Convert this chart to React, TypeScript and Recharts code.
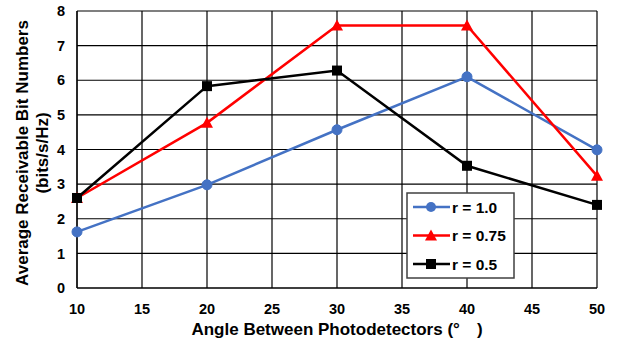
import React from "react";
import { LineChart, Line, XAxis, YAxis, CartesianGrid } from "recharts";

const angles = [10, 20, 30, 40, 50];
const r10 = [1.62, 2.98, 4.57, 6.1, 3.99];
const r075 = [2.6, 4.77, 7.58, 7.58, 3.24];
const r05 = [2.6, 5.83, 6.28, 3.53, 2.4];
const xTicks = [10, 15, 20, 25, 30, 35, 40, 45, 50];
const yTicks = [0, 1, 2, 3, 4, 5, 6, 7, 8];
const seriesNames = ["r = 1.0", "r = 0.75", "r = 0.5"];
const xTitle = "Angle Between Photodetectors (°\u2003)";
const yTitle1 = "Average Receivable Bit Numbers";
const yTitle2 = "(bits/s/Hz)";

const data = angles.map((a, i) => ({ angle: a, r10: r10[i], r075: r075[i], r05: r05[i] }));

const FONT = "'Liberation Sans', Arial, sans-serif";
const BLUE = "#4472C4";
const RED = "#FF0000";
const BLACK = "#000000";

const CircleDot = (p: any) => (
  <circle key={`c-${p.index}`} cx={p.cx} cy={p.cy} r={5} fill={BLUE} stroke={BLUE} />
);
const TriDot = (p: any) => (
  <polygon
    key={`t-${p.index}`}
    points={`${p.cx},${p.cy - 6} ${p.cx + 6},${p.cy + 5} ${p.cx - 6},${p.cy + 5}`}
    fill={RED}
  />
);
const SqDot = (p: any) => (
  <rect key={`s-${p.index}`} x={p.cx - 5} y={p.cy - 5} width={10} height={10} fill={BLACK} />
);

const LegendBox = () => {
  const rows = [
    { name: seriesNames[0], color: BLUE, kind: "c" },
    { name: seriesNames[1], color: RED, kind: "t" },
    { name: seriesNames[2], color: BLACK, kind: "s" },
  ];
  return (
    <svg width={110} height={88} style={{ display: "block" }}>
      <rect x={1} y={1} width={107} height={85} fill="#fff" stroke="#404040" strokeWidth={1.5} />
      {rows.map((r, i) => {
        const y = 15 + i * 28.5;
        const cx = 25;
        return (
          <g key={i}>
            <line x1={7} x2={44} y1={y} y2={y} stroke={r.color} strokeWidth={2.5} />
            {r.kind === "c" && <circle cx={cx} cy={y} r={5} fill={r.color} />}
            {r.kind === "t" && (
              <polygon points={`${cx},${y - 6} ${cx + 6},${y + 5} ${cx - 6},${y + 5}`} fill={r.color} />
            )}
            {r.kind === "s" && <rect x={cx - 5} y={y - 5} width={10} height={10} fill={r.color} />}
            <text x={46} y={y + 5.5} fontFamily={FONT} fontWeight="bold" fontSize={15.5} fill="#000">
              {r.name}
            </text>
          </g>
        );
      })}
    </svg>
  );
};

const YTitle = () => {
  const cy = 153;
  const common = {
    textAnchor: "middle" as const,
    fontFamily: FONT,
    fontWeight: "bold",
    fontSize: 17,
    fill: "#000",
  };
  return (
    <g>
      <text transform={`translate(28, ${cy}) rotate(-90)`} {...common}>
        {yTitle1}
      </text>
      <text transform={`translate(48, ${cy}) rotate(-90)`} {...common}>
        {yTitle2}
      </text>
    </g>
  );
};

const XTitle = (props: any) => {
  const vb = props.viewBox || { x: 77, width: 520 };
  return (
    <text
      x={vb.x + vb.width / 2}
      y={335}
      textAnchor="middle"
      fontFamily={FONT}
      fontWeight="bold"
      fontSize={17}
      fill="#000"
      style={{ whiteSpace: "pre" }}
    >
      {xTitle}
    </text>
  );
};

export default function App() {
  return (
    <div style={{ position: "absolute", left: 0, top: 0, width: 617, height: 349, background: "#fff" }}>
      <LineChart width={617} height={349} data={data} margin={{ top: 11, right: 20, bottom: 0, left: 0 }}>
        <CartesianGrid stroke="#000" strokeWidth={1.2} />
        <XAxis
          dataKey="angle"
          type="number"
          domain={[10, 50]}
          ticks={xTicks}
          height={61}
          tickLine={false}
          tickSize={0}
          tickMargin={16}
          axisLine={{ stroke: "#000", strokeWidth: 1.2 }}
          tick={{ fill: "#000", fontFamily: FONT, fontWeight: "bold", fontSize: 14.5 }}
          label={{ content: XTitle }}
        />
        <YAxis
          type="number"
          domain={[0, 8]}
          ticks={yTicks}
          width={77}
          tickLine={false}
          tickSize={0}
          tickMargin={12}
          axisLine={{ stroke: "#000", strokeWidth: 1.2 }}
          tick={{ fill: "#000", fontFamily: FONT, fontWeight: "bold", fontSize: 14.5 }}
          label={{ content: YTitle }}
        />
        <Line
          type="linear"
          dataKey="r10"
          name={seriesNames[0]}
          stroke={BLUE}
          strokeWidth={2.5}
          dot={CircleDot}
          isAnimationActive={false}
        />
        <Line
          type="linear"
          dataKey="r075"
          name={seriesNames[1]}
          stroke={RED}
          strokeWidth={2.5}
          dot={TriDot}
          isAnimationActive={false}
        />
        <Line
          type="linear"
          dataKey="r05"
          name={seriesNames[2]}
          stroke={BLACK}
          strokeWidth={2.5}
          dot={SqDot}
          isAnimationActive={false}
        />
      </LineChart>
      <div style={{ position: "absolute", left: 406, top: 192 }}>
        <LegendBox />
      </div>
    </div>
  );
}
